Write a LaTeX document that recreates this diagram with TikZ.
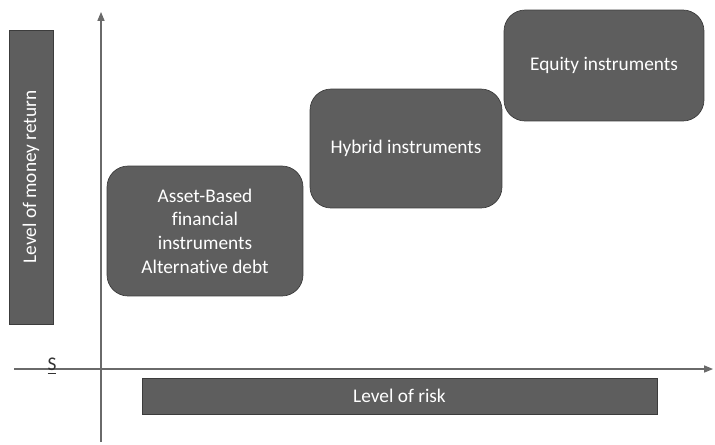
\documentclass[tikz,border=0pt]{standalone}
\usepackage{fontspec}
\setmainfont{Carlito}[Ligatures={NoCommon,NoContextual}]
\usetikzlibrary{arrows.meta}

\definecolor{boxgray}{HTML}{5E5E5E}
\definecolor{edgegray}{HTML}{3C3C3C}
\definecolor{axisgray}{HTML}{6A6A6A}

\tikzset{
  levelbox/.style={fill=boxgray, draw=edgegray, rounded corners=12pt, text=white,
    align=center, font=\fontsize{11}{13.5}\selectfont, inner sep=2pt},
  labelbar/.style={fill=boxgray, draw=edgegray, text=white, font=\fontsize{11}{13}\selectfont, inner sep=0pt},
  axis/.style={draw=axisgray, line width=0.6pt, -{Triangle[length=5pt,width=4pt]}}
}

\begin{document}
\begin{tikzpicture}[x=0.02cm, y=-0.02cm]
    \useasboundingbox (0,0) rectangle (715,444);

    % axes
    \coordinate (xstart) at (14,369);
    \coordinate (xend)   at (713,369);
    \coordinate (ystart) at (101,442);
    \coordinate (yend)   at (101,12);
    \draw[axis] (xstart) -- (xend);
    \draw[axis] (ystart) -- (yend);
    \node[font=\fontsize{11}{13}\selectfont, inner sep=0pt, text=black!80] (s) at (52,366) {\underline{S}};

    % axis labels
    \node[labelbar, minimum width=0.88cm, minimum height=5.88cm] (ret) at (31,177)
        {\rotatebox{90}{Level of money return}};
    \node[labelbar, minimum width=10.3cm, minimum height=0.72cm] (risk) at (399.5,396) {Level of risk};

    % instruments
    \node[levelbox, minimum width=3.92cm, minimum height=2.6cm] (asset) at (205,231)
        {Asset-Based\\financial\\instruments\\Alternative debt};
    \node[levelbox, minimum width=3.84cm, minimum height=2.38cm] (hybrid) at (406,148.5)
        {Hybrid instruments};
    \node[levelbox, minimum width=4.0cm, minimum height=2.22cm] (equity) at (604,65.5)
        {Equity instruments};
\end{tikzpicture}
\end{document}
